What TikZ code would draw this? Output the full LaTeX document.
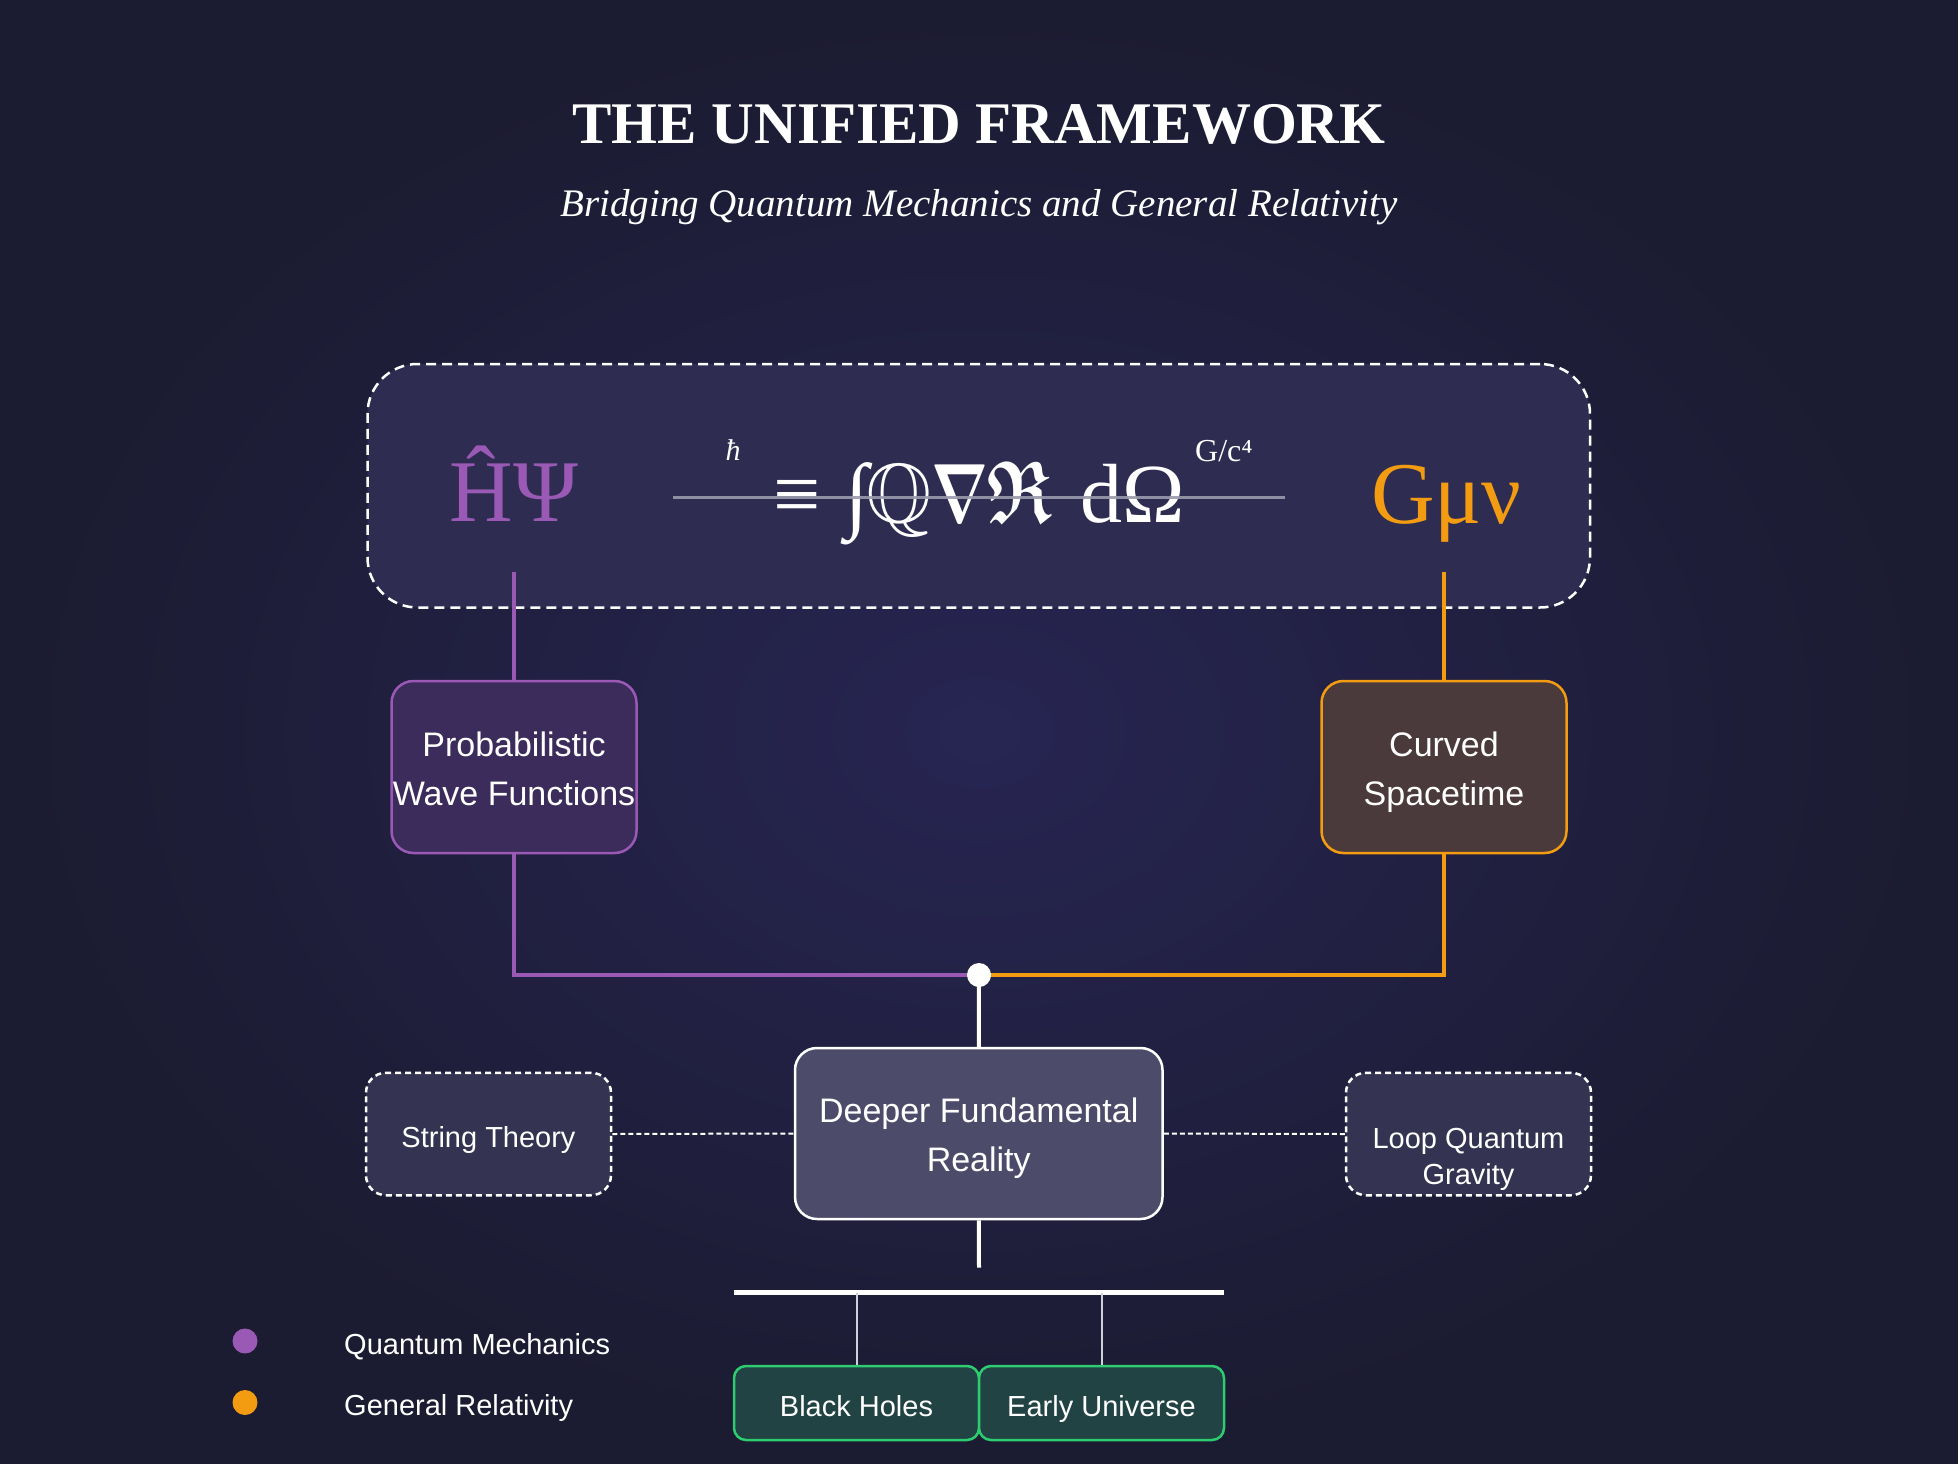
\documentclass[tikz,border=0pt]{standalone}
\usepackage{fontspec}
\usepackage{amsmath,amssymb}
\setmainfont{Liberation Serif}
\newfontfamily\arialfont{Liberation Sans}
\newcommand{\mytopstrut}{\rule{0pt}{35.2pt}}
\newcommand{\mybotstrut}{\rule[-8pt]{0pt}{8pt}}
\newcommand{\tenmath}[1]{{\fontsize{10}{12}\selectfont$#1$}}
\definecolor{bgin}{HTML}{272552}
\definecolor{bgout}{HTML}{1B1B31}
\definecolor{qpurple}{HTML}{9B59B6}
\definecolor{grorange}{HTML}{F39C12}
\definecolor{grgreen}{HTML}{2ECC71}
\definecolor{topfill}{HTML}{2E2D51}
\definecolor{probfill}{HTML}{3C2C5B}
\definecolor{curvfill}{HTML}{4A3A3C}
\definecolor{deepfill}{HTML}{4D4B6A}
\definecolor{altfill}{HTML}{343351}
\definecolor{appfill}{HTML}{224343}
\definecolor{eqline}{HTML}{9A9AAC}
\definecolor{thingray}{HTML}{D0D0D8}
\tikzset{
  txt/.style={inner sep=0pt, text=white},
  mainbox/.style={draw, rounded corners=22pt, line width=2.5pt, align=center,
    inner sep=0pt, minimum width=245pt, minimum height=172pt, text=white,
    font=\arialfont\fontsize{34}{49}\selectfont},
  altbox/.style={draw=white, dash pattern=on 6pt off 4pt, rounded corners=20pt,
    line width=2.5pt, fill=altfill, minimum width=245pt, minimum height=122.5pt,
    inner sep=0pt, align=center, text=white, font=\arialfont\fontsize{29}{36.5}\selectfont},
  appbox/.style={draw=grgreen, fill=appfill, rounded corners=12pt, line width=2.5pt,
    minimum width=245pt, minimum height=74pt, inner sep=0pt, text=white,
    text height=30pt, text depth=4pt,
    font=\arialfont\fontsize{29}{35}\selectfont},
  qline/.style={draw=qpurple, line width=4.5pt},
  gline/.style={draw=grorange, line width=4.5pt},
  wline/.style={draw=white, line width=4pt},
  dline/.style={draw=white, line width=2pt, dash pattern=on 5pt off 3pt},
  legdot/.style={circle, inner sep=0pt, minimum size=25pt},
  legtxt/.style={inner sep=0pt, anchor=base west, text=white, font=\arialfont\fontsize{29}{35}\selectfont}
}
\begin{document}
\begin{tikzpicture}[x=1pt,y=-1pt]
\useasboundingbox (0,0) rectangle (1960,1464);
% background
\fill[inner color=bgin, outer color=bgout] (0,0) rectangle (1958,1464);
\fill[white] (1958,0) rectangle (1960,1464);
% title
\node[txt, anchor=base] (title) at (979,143) {\fontsize{59}{70}\selectfont\bfseries THE UNIFIED FRAMEWORK};
\node[txt, anchor=base] (subtitle) at (979,216) {\fontsize{39}{47}\selectfont\itshape Bridging Quantum Mechanics and General Relativity};
% top equation box
\node[draw=white, fill=topfill, dash pattern=on 10pt off 6pt, line width=2.5pt, rounded corners=50pt,
  minimum width=1222.5pt, minimum height=243.5pt, inner sep=0pt] (eqbox) at (978.75,485.75) {};
\node[txt, anchor=base, text=qpurple] (hpsi) at (514,521) {\fontsize{88}{100}\selectfont ĤΨ};
\node[txt, anchor=base west, text=grorange] (gmn) at (1371,523) {\fontsize{88}{100}\selectfont Gμν};
\node[txt, anchor=base] (hbar) at (733,460) {\fontsize{30}{36}\selectfont\itshape ħ};
\node[txt, anchor=base west] (gc) at (1195,461) {\fontsize{32}{38}\selectfont G/c⁴};
\node[txt, anchor=base west] (eq) at (773,522) {\fontsize{84}{100}\selectfont
  \makebox[47pt]{≡}\hspace{25pt}\makebox[23pt]{∫}\hspace{2pt}%
  \makebox[58pt]{\scalebox{8.4}{\tenmath{\mathbb{Q}}}}\hspace{6pt}%
  \makebox[51pt]{\scalebox{5.95}[8.4]{\tenmath{\boldsymbol{\nabla}}}}\hspace{2pt}%
  \makebox[66pt]{\scalebox{6.6}[8.8]{\tenmath{\boldsymbol{\mathfrak{R}}}}}\hspace{27pt}%
  \makebox[105pt][l]{dΩ}};
\coordinate (eqL) at (673,497.5);
\coordinate (eqR) at (1285,497.5);
\draw[eqline, line width=2.5pt, opacity=0.9] (eqL) -- (eqR);
\coordinate (hpsitop) at (514,572);
\coordinate (gmntop) at (1444,572);
% main boxes
\node[mainbox, draw=qpurple, fill=probfill] (prob) at (514,767) {\mytopstrut Probabilistic\\Wave Functions\mybotstrut};
\node[mainbox, draw=grorange, fill=curvfill] (curv) at (1444,767) {\mytopstrut Curved\\Spacetime\mybotstrut};
\coordinate (hubc) at (979,975);
\draw[qline] (hpsitop) -- (prob.north);
\draw[gline] (gmntop) -- (curv.north);
\draw[qline] (prob.south) |- (hubc);
\draw[gline] (curv.south) |- (hubc);
\node[mainbox, draw=white, fill=deepfill, minimum width=367.5pt, minimum height=171pt] (deeper) at (978.75,1133.5) {\mytopstrut Deeper Fundamental\\Reality\mybotstrut};
\draw[wline] (hubc) -- (deeper.north);
\node[circle, fill=white, inner sep=0pt, minimum size=24pt] (hub) at (hubc) {};
% alternative theories
\node[altbox, text height=33pt, text depth=6pt] (string) at (488.5,1134) {String Theory};
\node[altbox] (loop) at (1468.5,1134) {};
\node[txt, align=center, font=\arialfont\fontsize{29}{36.5}\selectfont] (looptxt) at (1468.5,1159.5) {Loop Quantum\\Gravity};
\draw[dline] (string.east) -- (deeper.west);
\draw[dline] (deeper.east) -- (loop.west);
% applications
\coordinate (stub) at (979,1267.5);
\draw[wline] (deeper.south) -- (stub);
\coordinate (barL) at (734,1292.5);
\coordinate (barR) at (1224,1292.5);
\coordinate (barA) at (856.5,1292.5);
\coordinate (barB) at (1101.5,1292.5);
\draw[white, line width=4.5pt] (barL) -- (barR);
\node[appbox] (bh) at (856.5,1403) {Black Holes};
\node[appbox] (eu) at (1101.5,1403) {Early Universe};
\draw[thingray, line width=2pt] (barA) -- (bh.north);
\draw[thingray, line width=2pt] (barB) -- (eu.north);
% legend
\node[legdot, fill=qpurple] (ldq) at (245,1341) {};
\node[legdot, fill=grorange] (ldg) at (245,1402.5) {};
\node[legtxt] (ltq) at (344,1354) {Quantum Mechanics};
\node[legtxt] (ltg) at (344,1415) {General Relativity};
\end{tikzpicture}
\end{document}
